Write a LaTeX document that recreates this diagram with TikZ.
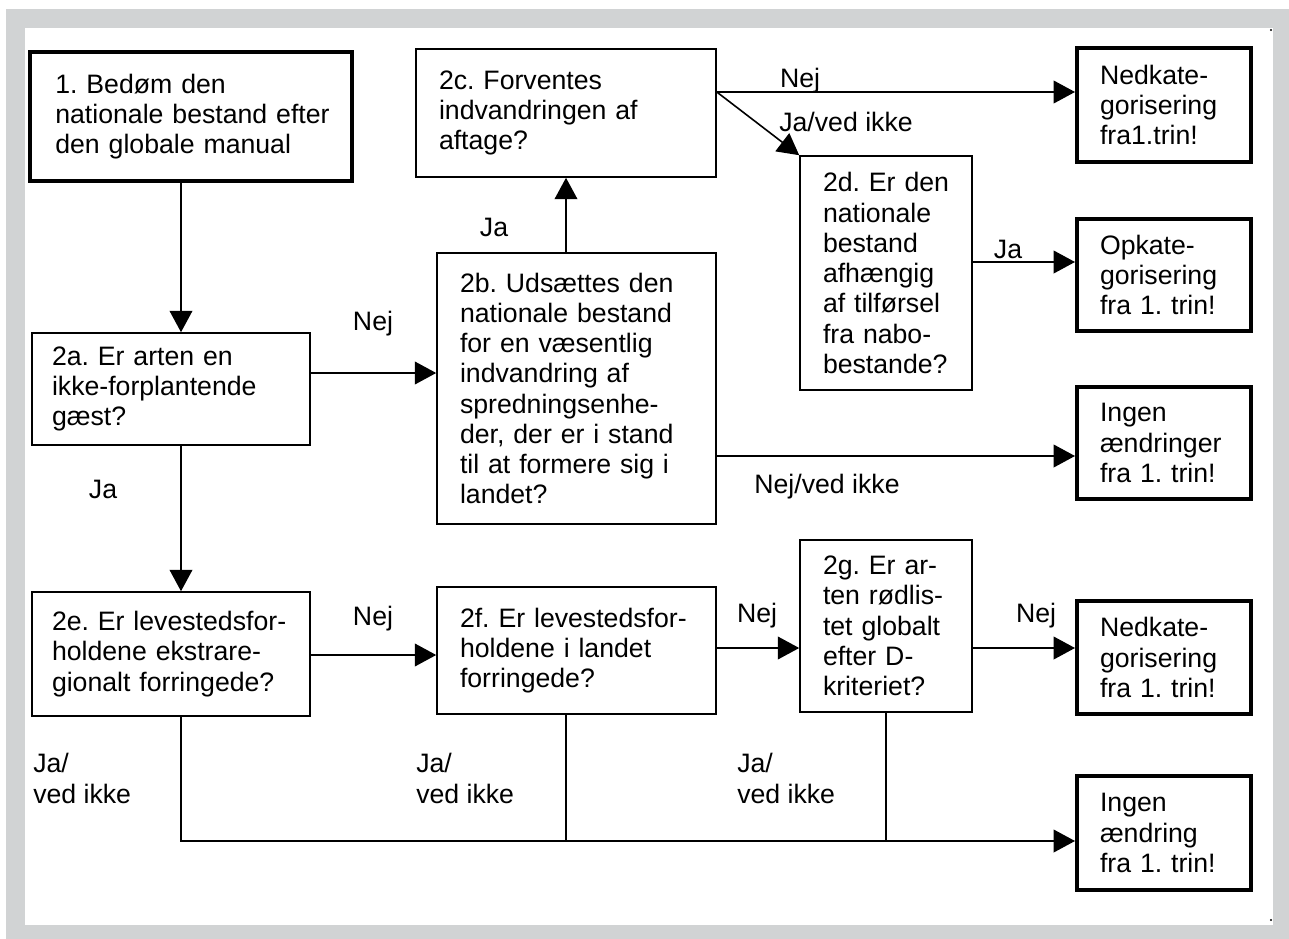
\documentclass[tikz,border=0pt]{standalone}
\usepackage{fontspec}
\setmainfont{Liberation Sans}
\usetikzlibrary{arrows.meta,calc}
\definecolor{framegrey}{RGB}{209,211,212}
\frenchspacing
\begin{document}
\begin{tikzpicture}[x=0.75pt,y=-0.75pt,
  txt/.style={font=\fontsize{20pt}{22.7pt}\selectfont},
  box/.style={draw, line width=1.2pt, txt, align=left, inner xsep=17.25pt, inner ysep=0pt, anchor=center},
  endbox/.style={box, line width=3pt},
  lbl/.style={txt, inner sep=0pt},
  conn/.style={line width=1.2pt},
  arr/.style={conn, -{Triangle[length=16pt,width=17pt]}}
]
\useasboundingbox (0,0) rectangle (1289,939);
\fill[white] (0,0) rectangle (1289,939);
\fill[framegrey] (6,9) rectangle (1289,939);
\fill[white] (25,28) rectangle (1273,925);
\fill (1271,30) circle (0.9pt);
\fill (1271,920) circle (0.9pt);

% boxes
\node[endbox, inner xsep=19pt, text width=203.5pt, minimum width=241.5pt, minimum height=96.75pt] (b1) at (191,116.5)
  {\mbox{1. Bedøm den}\\\mbox{nationale bestand efter}\\\mbox{den globale manual}};
\node[box, text width=190.5pt, minimum width=225pt, minimum height=96pt] (b2c) at (566,113)
  {2c. Forventes\\indvandringen~af\\aftage?};
\node[box, text width=174.75pt, minimum width=209.25pt, minimum height=203.25pt] (b2b) at (576.5,388.5)
  {2b.~Udsættes~den\\nationale~bestand\\for~en~væsentlig\\indvandring~af\\spredningsenhe-\\der,~der~er~i~stand\\til~at~formere~sig~i\\landet?};
\node[box, text width=94.5pt, minimum width=129pt, minimum height=175.5pt] (b2d) at (886,273)
  {2d.~Er~den\\nationale\\bestand\\afhængig\\af~tilførsel\\fra~nabo-\\bestande?};
\node[endbox, text width=96pt, minimum width=130.5pt, minimum height=85.5pt] (ned1) at (1164,105)
  {Nedkate-\\gorisering\\fra1.trin!};
\node[endbox, text width=96pt, minimum width=130.5pt, minimum height=84pt] (op) at (1164,275)
  {Opkate-\\gorisering\\fra~1.~trin!};
\node[endbox, text width=96pt, minimum width=130.5pt, minimum height=84pt] (ing1) at (1164,443)
  {Ingen\\ændringer\\fra~1.~trin!};
\node[box, inner xsep=15pt, text width=178.5pt, minimum width=208.5pt, minimum height=84pt] (b2a) at (171,389)
  {2a.~Er~arten~en\\ikke-forplantende\\gæst?};
\node[box, inner xsep=15pt, text width=178.5pt, minimum width=208.5pt, minimum height=93pt] (b2e) at (171,654)
  {2e.~Er~levestedsfor-\\holdene~ekstrare-\\gionalt~forringede?};
\node[box, text width=174.75pt, minimum width=209.25pt, minimum height=95.25pt] (b2f) at (576.5,650.5)
  {2f.~Er~levestedsfor-\\holdene~i~landet\\forringede?};
\node[box, text width=94.5pt, minimum width=129pt, minimum height=129pt] (b2g) at (886,626)
  {2g.~Er~ar-\\ten~rødlis-\\tet~globalt\\efter~D-\\kriteriet?};
\node[endbox, text width=96pt, minimum width=130.5pt, minimum height=84.75pt] (ned2) at (1164,657.5)
  {Nedkate-\\gorisering\\fra~1.~trin!};
\node[endbox, text width=96pt, minimum width=130.5pt, minimum height=85.5pt] (ing2) at (1164,833)
  {Ingen\\ændring\\fra~1.~trin!};

% helper coordinates
\coordinate (xL) at (181,0);
\coordinate (yA) at (0,373);
\coordinate (yN) at (0,92);
\coordinate (yD) at (0,262);
\coordinate (yB) at (0,456);
\coordinate (yE) at (0,655);
\coordinate (yF) at (0,648);
\coordinate (yBot) at (0,841);
\coordinate (jL) at (181,841);
\coordinate (jF) at (566,841);
\coordinate (jG) at (886,841);

% connectors
\draw[arr] (b1.south -| xL) -- (b2a.north -| xL);
\draw[arr] (b2a.east |- yA) -- (b2b.west |- yA);
\draw[arr] (b2a.south -| xL) -- (b2e.north -| xL);
\draw[arr] (b2b.north -| b2c.south) -- (b2c.south);
\draw[arr] (b2c.east |- yN) -- (ned1.west |- yN);
\draw[arr] (b2c.east |- yN) -- (b2d.north west);
\draw[arr] (b2d.east |- yD) -- (op.west |- yD);
\draw[arr] (b2b.east |- yB) -- (ing1.west |- yB);
\draw[arr] (b2e.east |- yE) -- (b2f.west |- yE);
\draw[arr] (b2f.east |- yF) -- (b2g.west |- yF);
\draw[arr] (b2g.east |- yF) -- (ned2.west |- yF);
\draw[arr] (b2e.south -| xL) -- (jL) -- (ing2.west |- yBot);
\draw[conn] (b2f.south -| jF) -- (jF);
\draw[conn] (b2g.south -| jG) -- (jG);

% labels
\node[lbl, anchor=base] (l1) at (800,87) {Nej};
\node[lbl, anchor=base] (l2) at (846,131) {Ja/ved ikke};
\node[lbl, anchor=base] (l3) at (494,236) {Ja};
\node[lbl, anchor=base] (l4) at (1008,258) {Ja};
\node[lbl, anchor=base] (l5) at (373,330) {Nej};
\node[lbl, anchor=base] (l6) at (827,493) {Nej/ved ikke};
\node[lbl, anchor=base] (l7) at (103,498) {Ja};
\node[lbl, anchor=base] (l8) at (373,625) {Nej};
\node[lbl, anchor=base] (l9) at (757,622) {Nej};
\node[lbl, anchor=base] (l10) at (1036,622) {Nej};
\node[lbl, anchor=base west] (l11a) at (33,772) {Ja/};
\node[lbl, anchor=base west] (l11b) at (33,803) {ved ikke};
\node[lbl, anchor=base west] (l12a) at (416,772) {Ja/};
\node[lbl, anchor=base west] (l12b) at (416,803) {ved ikke};
\node[lbl, anchor=base west] (l13a) at (737,772) {Ja/};
\node[lbl, anchor=base west] (l13b) at (737,803) {ved ikke};
\end{tikzpicture}
\end{document}
